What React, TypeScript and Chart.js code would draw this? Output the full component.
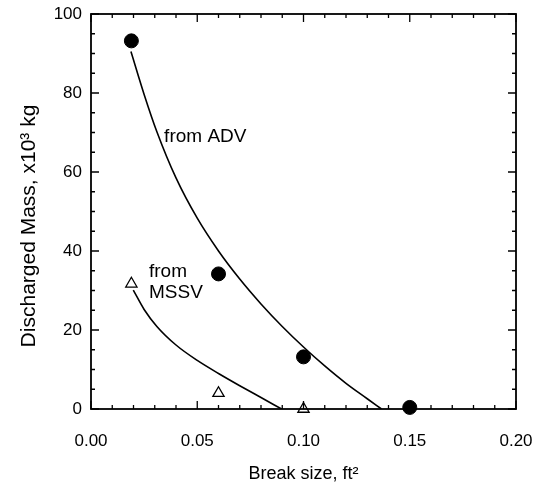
import { useEffect, useRef } from 'react';
import { Chart, registerables } from 'chart.js';

Chart.register(...registerables);

// Measured points (break size ft², discharged mass ×10³ kg)
const advBreakSizes = [0.019, 0.06, 0.1, 0.15];
const advMass = [93.2, 34.2, 13.2, 0.4];
const mssvBreakSizes = [0.019, 0.06, 0.1];
const mssvMass = [31.7, 4.0, 0];

// Fitted curves
const advCurveX = [0.0188, 0.025, 0.031, 0.04, 0.05, 0.06, 0.07, 0.08, 0.09, 0.1, 0.11, 0.12, 0.13, 0.1367];
const advCurveY = [90.5, 79.65, 70.2, 58.5, 48.3, 40.0, 32.9, 26.6, 20.9, 15.7, 10.9, 6.5, 2.6, 0];
const mssvCurveX = [0.0199, 0.025, 0.031, 0.04, 0.05, 0.06, 0.07, 0.08, 0.0897];
const mssvCurveY = [30.1, 25.2, 20.9, 16.2, 12.3, 9.0, 5.9, 2.9, 0];

// Axes
const xMin = 0;
const xMax = 0.2;
const xMinorStep = 0.01;
const xMajorStep = 0.05;
const yMin = 0;
const yMax = 100;
const yMinorStep = 5;
const yMajorStep = 20;

const xTitle = 'Break size, ft²';
const yTitle = 'Discharged Mass, x10³ kg';

// Annotation labels: text, x, y (baseline) in data units
const annotationTexts = ['from ADV', 'from', 'MSSV'];
const annotationX = [0.0344, 0.0273, 0.0273];
const annotationY = [67.7, 33.4, 28.1];

const FONT = "'Liberation Sans', Arial, Helvetica, sans-serif";

const isMultiple = (v: number, step: number) => Math.abs(v / step - Math.round(v / step)) < 1e-6;

const framePlugin = {
  id: 'frameTicks',
  afterDatasetsDraw(chart: any) {
    const { ctx, chartArea: a, scales } = chart;
    const xs = scales.x;
    const ys = scales.y;
    ctx.save();
    ctx.strokeStyle = '#000';
    ctx.lineWidth = 1.8;
    ctx.strokeRect(a.left, a.top, a.right - a.left, a.bottom - a.top);
    ctx.lineWidth = 1.3;
    ctx.beginPath();
    xs.ticks.forEach((t: any) => {
      const px = xs.getPixelForValue(t.value);
      const len = isMultiple(t.value, xMajorStep) ? 8 : 4;
      ctx.moveTo(px, a.bottom);
      ctx.lineTo(px, a.bottom - len);
      ctx.moveTo(px, a.top);
      ctx.lineTo(px, a.top + len);
    });
    ys.ticks.forEach((t: any) => {
      const py = ys.getPixelForValue(t.value);
      const len = isMultiple(t.value, yMajorStep) ? 8 : 4;
      ctx.moveTo(a.left, py);
      ctx.lineTo(a.left + len, py);
      ctx.moveTo(a.right, py);
      ctx.lineTo(a.right - len, py);
    });
    ctx.stroke();

    // annotations
    ctx.fillStyle = '#000';
    ctx.font = `19px ${FONT}`;
    ctx.textAlign = 'left';
    ctx.textBaseline = 'alphabetic';
    annotationTexts.forEach((txt, i) => {
      ctx.fillText(txt, xs.getPixelForValue(annotationX[i]), ys.getPixelForValue(annotationY[i]));
    });

    // y axis title
    ctx.font = `21px ${FONT}`;
    ctx.translate(35, (a.top + a.bottom) / 2 + 14.5);
    ctx.rotate(-Math.PI / 2);
    ctx.textAlign = 'center';
    ctx.fillText(yTitle, 0, 0);
    ctx.restore();
  },
};

export default function App() {
  const canvasRef = useRef<HTMLCanvasElement | null>(null);

  useEffect(() => {
    if (!canvasRef.current) return;
    const toPts = (xs: number[], ys: number[]) => xs.map((x, i) => ({ x, y: ys[i] }));
    const chart = new Chart(canvasRef.current, {
      type: 'scatter',
      data: {
        datasets: [
          {
            label: 'ADV fit',
            data: toPts(advCurveX, advCurveY),
            showLine: true,
            borderColor: '#000',
            borderWidth: 1.6,
            pointRadius: 0,
            cubicInterpolationMode: 'monotone',
            fill: false,
          },
          {
            label: 'MSSV fit',
            data: toPts(mssvCurveX, mssvCurveY),
            showLine: true,
            borderColor: '#000',
            borderWidth: 1.6,
            pointRadius: 0,
            cubicInterpolationMode: 'monotone',
            fill: false,
          },
          {
            label: 'ADV',
            data: toPts(advBreakSizes, advMass),
            pointStyle: 'circle',
            pointRadius: 7,
            backgroundColor: '#000',
            borderColor: '#000',
            borderWidth: 1,
            clip: false,
          },
          {
            label: 'MSSV',
            data: toPts(mssvBreakSizes, mssvMass),
            pointStyle: 'triangle',
            pointRadius: 6.5,
            backgroundColor: '#fff',
            borderColor: '#000',
            borderWidth: 1.3,
            clip: false,
          },
        ],
      } as any,
      options: {
        animation: false,
        responsive: true,
        maintainAspectRatio: false,
        layout: { padding: { top: 14, right: 31, left: 0, bottom: 0 } },
        plugins: { legend: { display: false }, tooltip: { enabled: false } },
        scales: {
          x: {
            type: 'linear',
            min: xMin,
            max: xMax,
            afterFit: (s: any) => {
              s.height = 78;
              s.paddingLeft = 0;
              s.paddingRight = 0;
            },
            grid: { display: false, drawTicks: false },
            border: { display: false },
            ticks: {
              stepSize: xMinorStep,
              autoSkip: false,
              maxRotation: 0,
              padding: 22,
              color: '#000',
              font: { family: FONT, size: 17 },
              callback: (v: any) => (isMultiple(Number(v), xMajorStep) ? Number(v).toFixed(2) : ''),
            },
            title: {
              display: true,
              text: xTitle,
              color: '#000',
              font: { family: FONT, size: 18 },
              padding: { top: 0, bottom: 2.5 },
            },
          },
          y: {
            type: 'linear',
            min: yMin,
            max: yMax,
            afterFit: (s: any) => {
              s.width = 91;
              s.paddingTop = 0;
              s.paddingBottom = 0;
            },
            grid: { display: false, drawTicks: false },
            border: { display: false },
            ticks: {
              stepSize: yMinorStep,
              autoSkip: false,
              padding: 9,
              color: '#000',
              font: { family: FONT, size: 17 },
              callback: (v: any) => (isMultiple(Number(v), yMajorStep) ? String(v) : ''),
            },
          },
        },
      } as any,
      plugins: [framePlugin],
    });
    return () => chart.destroy();
  }, []);

  return (
    <div style={{ position: 'fixed', left: 0, top: 0, width: 547, height: 487, background: '#fff' }}>
      <canvas ref={canvasRef} />
    </div>
  );
}
